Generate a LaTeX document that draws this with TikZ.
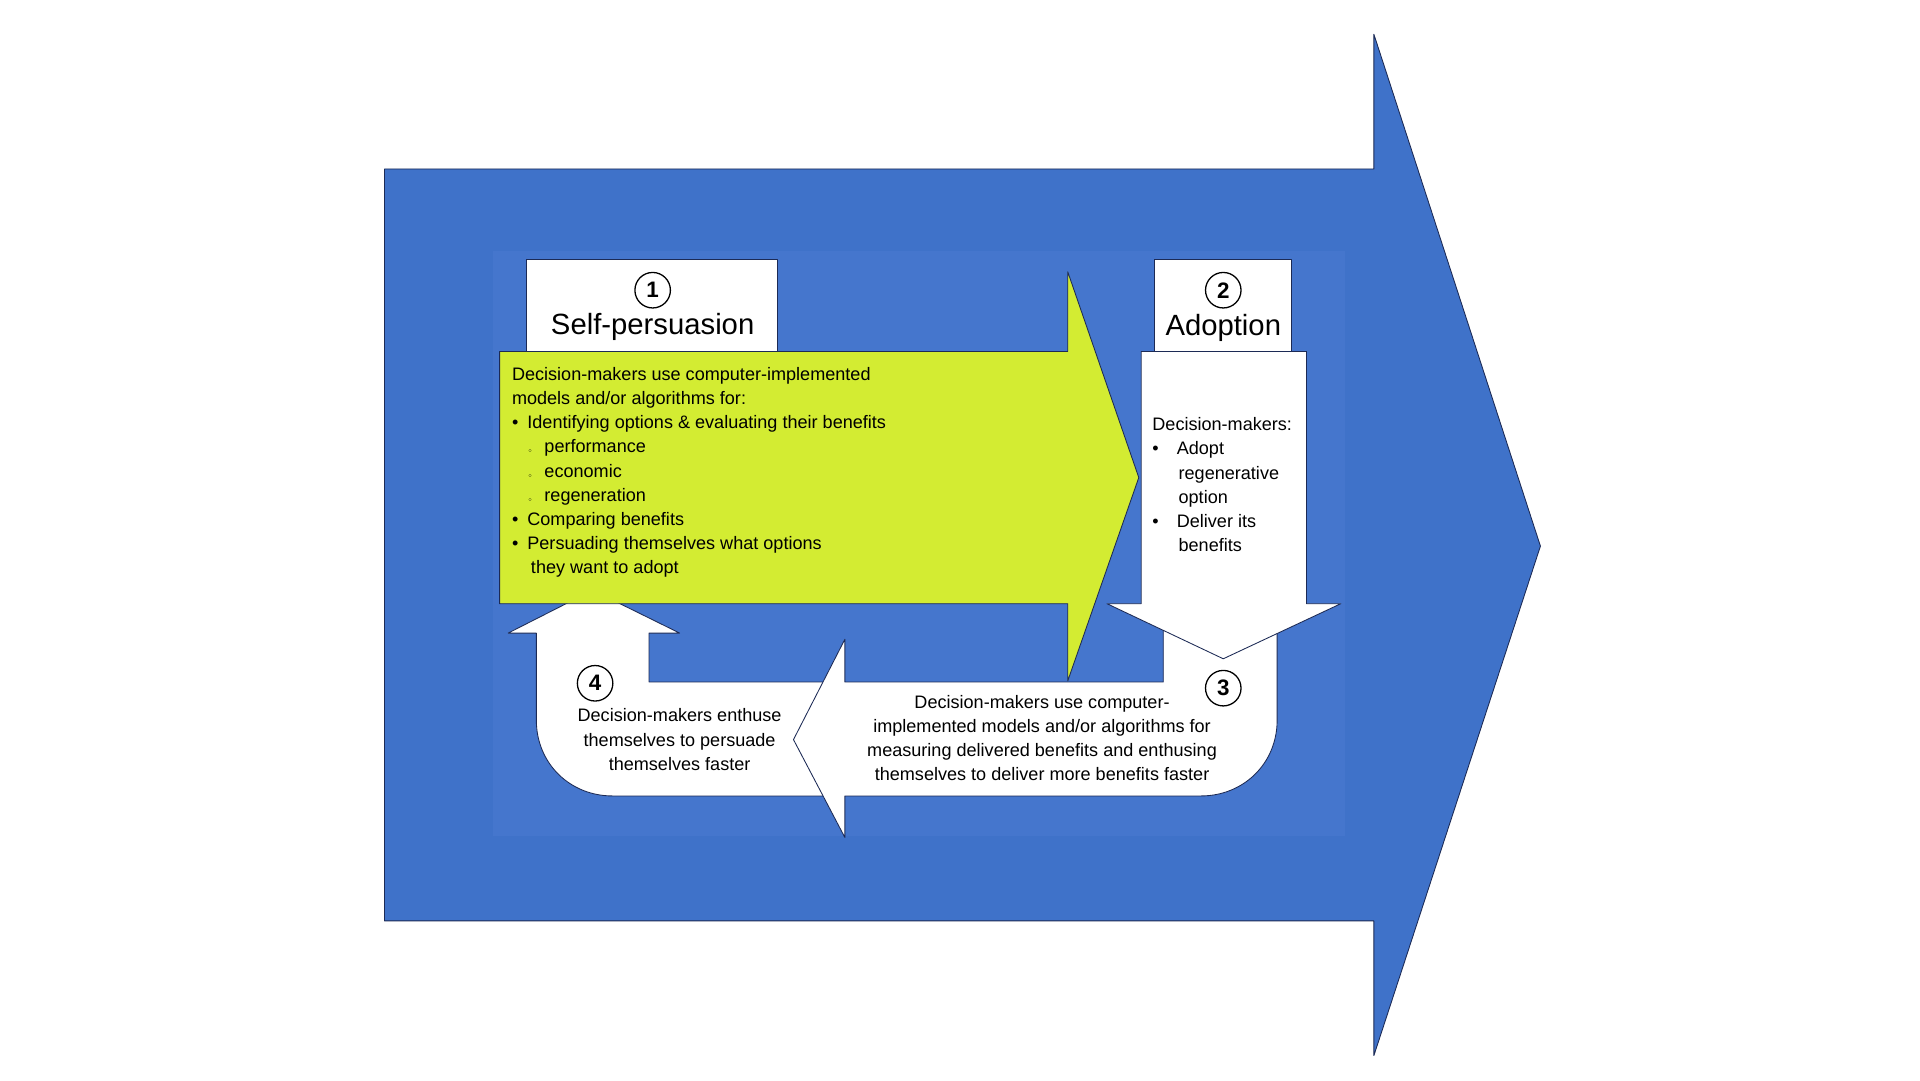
\documentclass[tikz,border=0pt]{standalone}
\usepackage{fontspec}
\setmainfont{Liberation Sans}
\usepackage{tikz}
\usetikzlibrary{positioning}
\definecolor{bigblue}{HTML}{3F72C9}
\definecolor{innerblue}{HTML}{4576CD}
\definecolor{lime}{HTML}{D3EC32}
\definecolor{edge}{HTML}{1C2A55}
\tikzset{
  body/.style={font=\fontsize{21}{28}\selectfont},
  title/.style={font=\fontsize{34}{40}\selectfont, inner sep=0pt},
  num/.style={circle, draw=black, line width=1.5pt, fill=white, minimum size=1.45cm, inner sep=0pt, font=\fontsize{26}{30}\selectfont\bfseries},
  outlined/.style={draw=edge, line width=1pt, line join=round},
}
\newcommand{\blt}{\textbullet\hspace{0.5em}}
\newcommand{\sub}{\hspace{0.9em}{\scriptsize$\circ$}\hspace{0.7em}}
\begin{document}
\begin{tikzpicture}[x=0.05cm, y=-0.05cm]
\useasboundingbox (0,0) rectangle (1568,882);
\fill[white] (0,0) rectangle (1568,882);
% big arrow
\path[outlined, fill=bigblue] (314,138) -- (1122,138) -- (1122,28) -- (1258,446)
  -- (1122,862) -- (1122,752) -- (314,752) -- cycle;
\fill[innerblue] (403,205) rectangle (1098,683);
% title boxes
\draw[outlined, fill=white] (430,212) rectangle (635,287);
\draw[outlined, fill=white] (943,212) rectangle (1055,287);
\node[num] (n1) at (533,237) {1};
\node[title] (t1) at (533,267) {Self-persuasion};
\node[num] (n2) at (999,237) {2};
\node[title] (t2) at (999,268) {Adoption};
% loop back (left part)
\fill[white] (673,650) -- (500,650) .. controls (466,650) and (438,624) .. (438,588)
  -- (438,517) -- (415,517) -- (484,482) -- (555,517) -- (530,517) -- (530,557) -- (673,557) -- cycle;
\draw[outlined] (673,650) -- (500,650) .. controls (466,650) and (438,624) .. (438,588)
  -- (438,517) -- (415,517) -- (484,482) -- (555,517) -- (530,517) -- (530,557) -- (673,557);
% loop back (right part)
\path[outlined, fill=white] (950,510) -- (950,557) -- (690,557) -- (690,522) -- (648,604)
  -- (690,684) -- (690,650) -- (981,650) .. controls (1015,650) and (1043,624) .. (1043,588)
  -- (1043,510) -- cycle;
% self-persuasion arrow
\path[outlined, fill=lime] (408,287) -- (872,287) -- (872,222) -- (930,390) -- (872,556)
  -- (872,493) -- (408,493) -- cycle;
% adoption arrow
\path[outlined, fill=white] (932,287) -- (1067,287) -- (1067,493) -- (1095,493) -- (999,538)
  -- (904,493) -- (932,493) -- cycle;
\node[num] (n3) at (999,562) {3};
\node[num] (n4) at (486,558) {4};
% texts
\node[body, anchor=north west, align=left, inner sep=0pt] (selftext) at (418,300) {%
Decision-makers use computer-implemented\\
models and/or algorithms for:\\
\blt Identifying options \& evaluating their benefits\\
\sub performance\\
\sub economic\\
\sub regeneration\\
\blt Comparing benefits\\
\blt Persuading themselves what options\\
\hspace{1.05em}they want to adopt};
\node[body, anchor=north west, align=left, inner sep=0pt] (adopttext) at (941,341) {%
Decision-makers:\\
\blt\hspace{0.5em}Adopt\\
\hspace{1.45em}regenerative\\
\hspace{1.45em}option\\
\blt\hspace{0.5em}Deliver its\\
\hspace{1.45em}benefits};
\node[body, align=center] (measure) at (851,603) {Decision-makers use computer-\\
implemented models and/or algorithms for\\
measuring delivered benefits and enthusing\\
themselves to deliver more benefits faster};
\node[body, align=center] (enthuse) at (555,604) {Decision-makers enthuse\\
themselves to persuade\\
themselves faster};
\end{tikzpicture}
\end{document}
